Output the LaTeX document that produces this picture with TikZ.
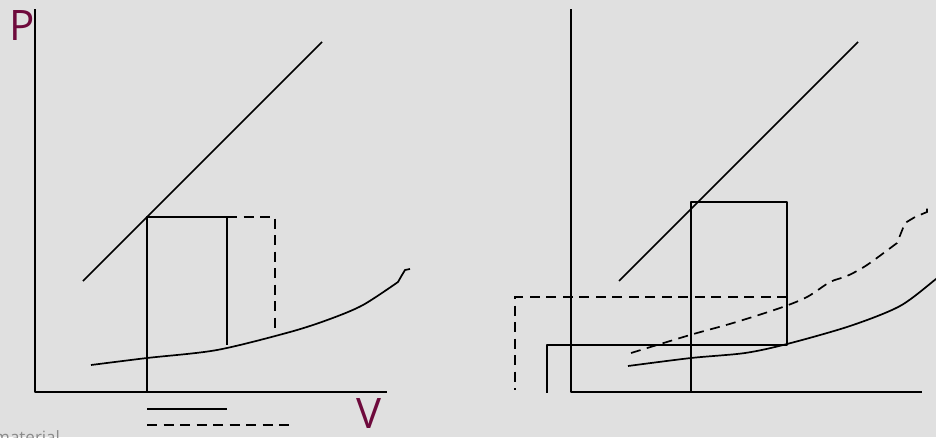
\documentclass[tikz,border=0pt]{standalone}
\usepackage{fontspec}
\setmainfont{Open Sans}
\definecolor{bg}{HTML}{E0E0E0}
\definecolor{lbl}{HTML}{6E0A3C}
\definecolor{grey}{HTML}{8A8A8A}
\begin{document}
\begin{tikzpicture}[x=1pt,y=-1pt,
  ln/.style={line width=1.7pt,line join=round},
  dsh/.style={line width=1.7pt,dash pattern=on 10pt off 6.5pt},
  lab/.style={text=lbl,font=\fontsize{42}{42}\selectfont,inner sep=0pt}]
\fill[bg] (0,0) rectangle (936,437);
\useasboundingbox (0,0) rectangle (936,437);
\begin{scope}
\clip (0,0) rectangle (936,437);
% ---------- left panel ----------
\coordinate (LO) at (35,392);
\coordinate (LT) at (35,9);
\coordinate (LX) at (387,392);
\draw[ln] (LT) -- (LO) -- (LX);
\node[lab,anchor=north west] (P) at (9,10) {P};
\node[lab,anchor=north west] (V) at (356,398) {V};
\coordinate (LD1) at (83,281);
\coordinate (LD2) at (322,42);
\draw[ln] (LD1) -- (LD2);
\coordinate (A1) at (147,392);
\coordinate (A2) at (147,217);
\coordinate (A3) at (227,217);
\coordinate (A4) at (227,345);
\coordinate (A5) at (275,217);
\coordinate (A6) at (275,331);
\draw[ln] (A1) -- (A2) -- (A3) -- (A4);
\draw[dsh] (A3) -- (A5) -- (A6);
\draw[ln] plot[smooth,tension=0.5] coordinates {(91,365) (147,358) (217,350) (290,332) (330,319) (363,305) (398,282)}
  -- (402,275) -- (405,270) -- (410,269);
\coordinate (B1) at (147,409);
\coordinate (B2) at (227,409);
\coordinate (B3) at (147,425);
\coordinate (B4) at (292,425);
\draw[ln] (B1) -- (B2);
\draw[dsh] (B3) -- (B4);
\node[text=grey,font=\fontsize{17}{17}\selectfont,anchor=base west,inner sep=0pt] (M) at (-6,443) {material};
% ---------- right panel ----------
\coordinate (RO) at (571,392);
\coordinate (RT) at (571,9);
\coordinate (RX) at (922,392);
\draw[ln] (RT) -- (RO) -- (RX);
\coordinate (RD1) at (619,281);
\coordinate (RD2) at (858,42);
\draw[ln] (RD1) -- (RD2);
\coordinate (C1) at (691,392);
\coordinate (C2) at (691,202);
\coordinate (C3) at (787,202);
\coordinate (C4) at (787,345);
\coordinate (C5) at (547,345);
\coordinate (C6) at (547,393);
\draw[ln] (C1) -- (C2) -- (C3) -- (C4) -- (C5) -- (C6);
\coordinate (D1) at (787,297);
\coordinate (D2) at (515,297);
\coordinate (D3) at (515,390);
\draw[dsh] (D1) -- (D2) -- (D3);
\draw[ln] plot[smooth,tension=0.5] coordinates {(628,366) (691,358) (745,353) (787,344) (850,326) (900,306) (936,279) (945,272)};
\draw[dsh] plot[smooth,tension=0.5] coordinates {(631,353) (690,335) (733,323) (780,308) (807,297) (830,282) (847,276) (867,265) (897,243)}
  -- (905,223) -- (915,217) -- (927,212) -- (927,205);
\end{scope}
\end{tikzpicture}
\end{document}
